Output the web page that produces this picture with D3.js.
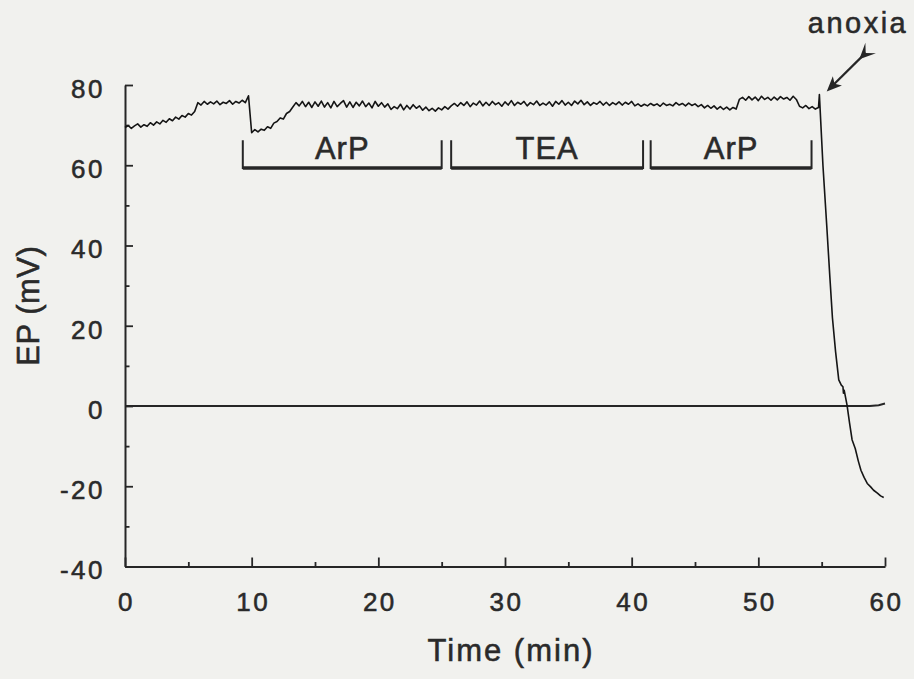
<!DOCTYPE html>
<html>
<head>
<meta charset="utf-8">
<script src="https://cdn.jsdelivr.net/npm/d3@7/dist/d3.min.js"></script>
<style>
  html, body { margin: 0; padding: 0; background: #f1f1ee; }
  svg { display: block; }
  text { font-family: "Liberation Sans", Arial, Helvetica, sans-serif; fill: #2a2a2a; stroke: #2a2a2a; stroke-width: 0.55px; }
</style>
</head>
<body>
<svg id="chart" width="914" height="679"></svg>
<script>
// ---- data ----
const traceTime = [
  0.00,0.25,0.50,0.75,1.00,1.25,1.50,1.75,2.00,2.25,2.50,2.75,3.00,3.25,3.50,3.75,4.00,4.25,4.50,4.75,
  5.00,5.25,5.50,5.75,6.00,6.25,6.50,6.75,7.00,7.25,7.50,7.75,8.00,8.25,8.50,8.75,9.00,9.25,9.50,9.75,
  10.00,10.25,10.50,10.75,11.00,11.25,11.50,11.75,12.00,12.25,12.50,12.75,13.00,13.25,13.50,13.75,14.00,14.25,14.50,14.75,
  15.00,15.25,15.50,15.75,16.00,16.25,16.50,16.75,17.00,17.25,17.50,17.75,18.00,18.25,18.50,18.75,19.00,19.25,19.50,19.75,
  20.00,20.25,20.50,20.75,21.00,21.25,21.50,21.75,22.00,22.25,22.50,22.75,23.00,23.25,23.50,23.75,24.00,24.25,24.50,24.75,
  25.00,25.25,25.50,25.75,26.00,26.25,26.50,26.75,27.00,27.25,27.50,27.75,28.00,28.25,28.50,28.75,29.00,29.25,29.50,29.75,
  30.00,30.25,30.50,30.75,31.00,31.25,31.50,31.75,32.00,32.25,32.50,32.75,33.00,33.25,33.50,33.75,34.00,34.25,34.50,34.75,
  35.00,35.25,35.50,35.75,36.00,36.25,36.50,36.75,37.00,37.25,37.50,37.75,38.00,38.25,38.50,38.75,39.00,39.25,39.50,39.75,
  40.00,40.25,40.50,40.75,41.00,41.25,41.50,41.75,42.00,42.25,42.50,42.75,43.00,43.25,43.50,43.75,44.00,44.25,44.50,44.75,
  45.00,45.25,45.50,45.75,46.00,46.25,46.50,46.75,47.00,47.25,47.50,47.75,48.00,48.25,48.50,48.75,49.00,49.25,49.50,49.75,
  50.00,50.25,50.50,50.75,51.00,51.25,51.50,51.75,52.00,52.25,52.50,52.75,53.00,53.25,53.50,53.75,54.00,54.25,54.50,54.75,
  54.82,55.10,55.40,55.65,55.85,56.10,56.35,56.55,56.68,56.72,56.78,57.00,57.20,57.40,57.65,57.90,58.10,58.35,58.60,58.85,
  59.10,59.40,59.65,59.90
];
const traceEP = [
  69.4,69.9,69.2,69.8,70.3,69.5,70.1,69.7,70.6,70.0,70.8,70.3,71.2,70.7,71.6,71.1,72.0,71.5,72.4,72.0,
  72.9,72.5,73.4,75.6,75.0,75.9,75.2,75.8,75.3,76.0,75.1,75.7,75.4,76.1,75.2,75.9,75.5,76.2,75.6,77.3,
  68.1,68.9,68.3,69.0,68.7,69.6,69.2,70.5,70.9,71.8,71.5,72.9,73.4,74.5,75.6,74.8,75.9,74.6,75.7,74.4,
  75.8,74.7,76.0,74.5,75.6,74.3,75.9,74.6,75.4,76.1,74.5,75.8,74.4,75.7,74.8,76.0,74.6,75.5,74.3,75.9,
  74.7,75.6,74.5,75.3,73.9,74.6,74.1,75.2,73.8,74.9,74.0,75.1,74.2,74.8,73.7,74.5,73.6,74.2,73.5,74.3,
  73.8,74.6,74.0,74.8,75.4,74.7,75.6,74.9,75.8,74.6,75.5,75.0,76.0,74.8,75.7,74.9,75.9,75.1,75.6,74.7,
  75.8,75.0,76.1,74.9,75.7,75.2,75.9,74.8,75.6,75.1,76.0,74.9,75.5,75.0,75.8,74.7,75.9,75.2,76.1,75.0,
  75.7,74.9,76.0,75.3,76.2,75.1,75.8,74.9,75.6,75.2,75.9,75.0,75.7,74.9,75.6,75.1,75.8,75.0,75.7,75.2,
  75.9,74.8,75.3,74.7,75.2,74.8,75.4,74.9,75.3,74.7,75.5,74.9,75.2,74.8,75.6,75.0,75.4,74.8,75.5,74.9,
  75.3,74.6,75.1,74.3,74.9,74.2,74.8,74.0,74.6,73.9,74.5,73.8,74.4,74.0,76.4,76.9,76.2,77.1,76.3,77.0,
  76.1,77.2,76.4,76.9,76.2,77.0,76.3,77.1,76.5,76.9,76.2,77.2,76.4,74.7,74.3,74.9,74.1,74.6,74.0,74.4,
  77.6,60.0,45.0,32.0,22.0,13.5,6.5,5.2,4.8,3.2,3.9,0.3,-4.2,-8.4,-10.6,-13.8,-16.0,-17.8,-19.3,-20.1,
  -21.0,-21.7,-22.4,-22.8
];
const zeroTime = [0, 58.8, 59.5, 60];
const zeroEP = [0, 0, 0.2, 0.6];

const xMajorTicks = [0, 10, 20, 30, 40, 50, 60];
const xMinorTicks = [5, 15, 25, 35, 45, 55];
const yMajorTicks = [-40, -20, 0, 20, 40, 60, 80];
const yMinorTicks = [-30, -10, 10, 30, 50, 70];

const treatLabels = ["ArP", "TEA", "ArP"];
const treatStart = [9.3, 25.75, 41.5];
const treatEnd = [25.0, 40.9, 54.2];

const anoxiaLabel = "anoxia";
const xTitle = "Time (min)";
const yTitle = "EP (mV)";

// ---- drawing ----
const svg = d3.select("#chart");
const ink = "#262626";

const x = d3.scaleLinear().domain([0, 60]).range([125, 885]);
const y = d3.scaleLinear().domain([-40, 80]).range([566.5, 85]);

// x axis
const gx = svg.append("g").attr("transform", `translate(0,${y(-40)})`);
gx.call(d3.axisBottom(x).tickValues(xMajorTicks).tickSize(-9).tickSizeOuter(0).tickPadding(26).tickFormat(d3.format("d")));
const gxm = svg.append("g").attr("transform", `translate(0,${y(-40)})`);
gxm.call(d3.axisBottom(x).tickValues(xMinorTicks).tickSize(-4.5).tickSizeOuter(0).tickFormat(""));
gxm.select(".domain").remove();

// y axis
const gy = svg.append("g").attr("transform", `translate(${x(0)},0)`);
gy.call(d3.axisLeft(y).tickValues(yMajorTicks).tickSize(-8).tickSizeOuter(0).tickPadding(20).tickFormat(d => d < 0 ? "-" + Math.abs(d) : String(d)));
const gym = svg.append("g").attr("transform", `translate(${x(0)},0)`);
gym.call(d3.axisLeft(y).tickValues(yMinorTicks).tickSize(-4.5).tickSizeOuter(0).tickFormat(""));
gym.select(".domain").remove();

svg.selectAll(".domain").attr("stroke", ink).attr("stroke-width", 2).attr("fill", "none");
svg.selectAll(".tick line").attr("stroke", ink).attr("stroke-width", 1.8);
svg.selectAll(".tick text")
  .attr("fill", "#2a2a2a")
  .style("font-family", '"Liberation Sans", Arial, sans-serif')
  .style("font-size", "26px")
  .style("letter-spacing", "2.5px");
gy.selectAll(".tick text").attr("y", 4);
gx.selectAll(".tick text").attr("dx", "1px");

// zero line
const line = d3.line().x(d => x(d[0])).y(d => y(d[1]));
svg.append("path")
  .datum(zeroTime.map((t, i) => [t, zeroEP[i]]))
  .attr("d", line)
  .attr("fill", "none").attr("stroke", ink).attr("stroke-width", 2);

// EP trace
svg.append("path")
  .datum(traceTime.map((t, i) => [t, traceEP[i]]))
  .attr("d", line)
  .attr("fill", "none").attr("stroke", "#151515").attr("stroke-width", 1.6)
  .attr("stroke-linejoin", "round");

// treatment brackets
const br = svg.append("g");
treatLabels.forEach((lab, i) => {
  const x0 = x(treatStart[i]), x1 = x(treatEnd[i]);
  const yb = y(59.3), yt = y(66.2);
  br.append("path")
    .attr("d", `M${x0},${yt}V${yb}H${x1}V${yt}`)
    .attr("fill", "none").attr("stroke", ink).attr("stroke-width", 2);
  br.append("line")
    .attr("x1", x0).attr("x2", x1).attr("y1", yb).attr("y2", yb)
    .attr("stroke", ink).attr("stroke-width", 3.5);
  br.append("text")
    .attr("x", (x0 + x1) / 2).attr("y", y(61.5))
    .attr("text-anchor", "middle")
    .style("font-size", "31px")
    .style("letter-spacing", "1px")
    .text(lab);
});

// anoxia annotation
const tail = [x(58.7), y(88.7)], head = [x(55.4), y(78.4)];
const dx = head[0] - tail[0], dy = head[1] - tail[1];
const len = Math.hypot(dx, dy);
const ux = dx / len, uy = dy / len, px = -uy, py = ux;
svg.append("line")
  .attr("x1", tail[0] + ux * 4).attr("y1", tail[1] + uy * 4)
  .attr("x2", head[0] - ux * 8).attr("y2", head[1] - uy * 8)
  .attr("stroke", ink).attr("stroke-width", 2.2);
svg.append("path")
  .attr("d", `M${head[0]},${head[1]}L${head[0] - ux * 15 + px * 6.5},${head[1] - uy * 15 + py * 6.5}L${head[0] - ux * 11},${head[1] - uy * 11}L${head[0] - ux * 15 - px * 6.5},${head[1] - uy * 15 - py * 6.5}Z`)
  .attr("fill", ink);
// fletching at the tail
svg.append("path")
  .attr("d", `M${tail[0] - ux * 3 + px * 7.5},${tail[1] - uy * 3 + py * 7.5}L${tail[0] + ux * 13},${tail[1] + uy * 13}L${tail[0] - ux * 3 - px * 7.5},${tail[1] - uy * 3 - py * 7.5}L${tail[0] + ux * 4},${tail[1] + uy * 4}Z`)
  .attr("fill", ink);
svg.append("text")
  .attr("x", 858).attr("y", 33)
  .attr("text-anchor", "middle")
  .style("font-size", "29px")
  .style("letter-spacing", "2.5px")
  .text(anoxiaLabel);

// axis titles
svg.append("text")
  .attr("x", (x(0) + x(60)) / 2 + 6).attr("y", 661)
  .attr("text-anchor", "middle")
  .style("font-size", "31px")
  .style("letter-spacing", "2px")
  .text(xTitle);
svg.append("text")
  .attr("transform", `translate(39,${y(25)}) rotate(-90)`)
  .attr("text-anchor", "middle")
  .style("font-size", "31px")
  .style("letter-spacing", "0.5px")
  .text(yTitle);
</script>
</body>
</html>
